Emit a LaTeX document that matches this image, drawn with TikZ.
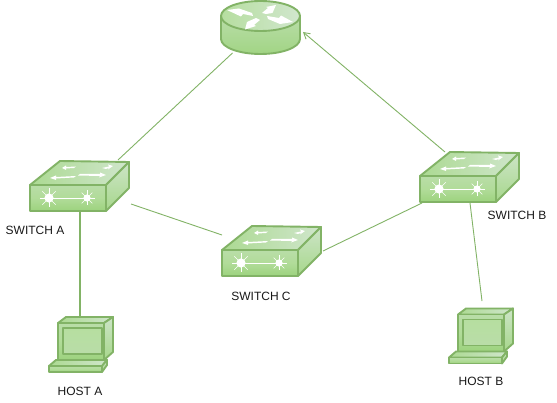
\documentclass[tikz,border=0pt]{standalone}
\usepackage{fontspec}
\setmainfont{Liberation Sans}
\usetikzlibrary{arrows.meta}
\definecolor{gline}{HTML}{82B366}
\definecolor{glight}{HTML}{D5E8D4}
\definecolor{gmid}{HTML}{B9DDA8}
\definecolor{gdark}{HTML}{97D077}
\tikzset{
  edge/.style={draw=gline,line width=0.9pt},
  outl/.style={draw=gline,line width=1.9pt,line join=round},
  facefront/.style={outl,top color=gmid,bottom color=gdark!95!white,middle color=gdark!75!white},
  facetop/.style={outl,left color=gdark!80!white,right color=glight!80!gmid},
  faceright/.style={outl,top color=glight!70!gmid,bottom color=gdark!85!white},
  lab/.style={font=\fontsize{12}{14}\selectfont,text=black!90,inner sep=0pt},
  pics/switchbox/.style={code={
    \path[facetop] (0,0) -- (30,-24) -- (99,-23) -- (76,0) -- cycle;
    \path[faceright] (76,0) -- (99,-23) -- (99,3) -- (76,26) -- cycle;
    \path[facefront] (0,0) rectangle (76,26);
    % front panel
    \draw[white,line width=1.3pt] (19,13.5) -- (57,13.5);
    \fill[white] (19,13) circle (4.6);
    \fill[white] (57,13) circle (3.6);
    \foreach \a in {0,45,...,315}{
      \draw[white,line width=.6pt] (19,13) -- ++(\a:9.5);
      \draw[white,line width=.6pt] (57,13) -- ++(\a:7.5);
    }
    % top arrows
    \fill[white] (32,-17) -- (36,-19.5) -- (36,-18) -- (46,-18.5) -- (44,-17) -- (36,-16.5) -- (36,-15) -- cycle;
    \fill[white] (83,-19) -- (78,-20.5) -- (79,-18.5) -- (72,-17) -- (76,-16) -- (79,-17) -- (78,-15.5) -- cycle;
    \fill[white] (20,-7) -- (26,-9.5) -- (26,-8) -- (46,-9) -- (44,-7.5) -- (26,-6.5) -- (26,-5) -- cycle;
    \fill[white] (76,-10) -- (70,-12.5) -- (70,-11) -- (50,-11) -- (48,-9.5) -- (70,-9) -- (69,-7.5) -- cycle;
  }},
  pics/hostbox/.style={code={
    \path[facetop] (0,0) -- (8,-6) -- (55,-6) -- (46,0) -- cycle;
    \path[faceright] (46,0) -- (55,-6) -- (55,29) -- (46,37) -- cycle;
    \path[facefront] (0,0) rectangle (46,37);
    \path[outl,top color=gdark!70!white,bottom color=gmid,line width=1.4pt] (5,5) rectangle (44,31);
    \path[facetop] (-2,37) -- (49,37) -- (44,43) -- (-9,43) -- cycle;
    \path[faceright] (49,37) -- (49,42) -- (44,49) -- (44,43) -- cycle;
    \path[facefront] (-9,43) rectangle (44,49);
  }}
}
\begin{document}
\begin{tikzpicture}[x=1pt,y=-1pt]
\useasboundingbox (0,0) rectangle (557,403);
\fill[white] (0,0) rectangle (557,403);
% router
\path[outl,top color=gmid,bottom color=gdark!90!white]
  (221,16) -- (221,39) arc[start angle=180,end angle=0,x radius=39.5,y radius=15]
  -- (300,16) -- cycle;
\path[outl,left color=gdark!70!white,right color=glight!85!gmid]
  (260.5,16) ellipse[x radius=39.5,y radius=15];
\fill[white] (227,10) -- (239,8.5) -- (252,13) -- (253,16) -- (243,14) -- (241,16.5) -- cycle;
\fill[white] (276,5) -- (272.5,13) -- (266,14) -- (262,13) -- (268,8) -- (266,7) -- cycle;
\fill[white] (245,29.5) -- (247,22) -- (256,18) -- (260,20) -- (254,25) -- (256,26) -- cycle;
\fill[white] (293,22) -- (280,24) -- (268,19) -- (267,16) -- (279,18) -- (281,15.5) -- cycle;
\node[inner sep=0pt] (router) at (260.5,28) {};
% devices
\pic at (30,185) {switchbox};
\pic at (420,176) {switchbox};
\pic at (222,250) {switchbox};
\pic at (58,323) {hostbox};
\pic at (458,314.5) {hostbox};
% connector ends
\coordinate (rA) at (232.5,53);
\coordinate (rB) at (303,32);
\coordinate (sAr) at (118,160);
\coordinate (sBr) at (445,152);
\coordinate (sAc) at (131,204);
\coordinate (sCa) at (222,235);
\coordinate (sCb) at (323,251);
\coordinate (sBc) at (422,203);
\coordinate (sAh) at (80,212);
\coordinate (hA) at (80,317);
\coordinate (sBh) at (470,203);
\coordinate (hB) at (482,301);
\draw[edge] (rA) -- (sAr);
\draw[edge,-{Straight Barb[length=6pt,width=7pt]}] (sBr) -- (rB);
\draw[edge] (sAc) -- (sCa);
\draw[edge] (sCb) -- (sBc);
\draw[edge,line width=1.1pt] (sAh) -- (hA);
\draw[edge] (sBh) -- (hB);
% labels
\node[lab] (lA) at (35,230) {SWITCH A};
\node[lab] (lB) at (517,215) {SWITCH B};
\node[lab] (lC) at (261,296) {SWITCH C};
\node[lab] (lHA) at (80,391) {HOST A};
\node[lab] (lHB) at (481,381) {HOST B};
\end{tikzpicture}
\end{document}
